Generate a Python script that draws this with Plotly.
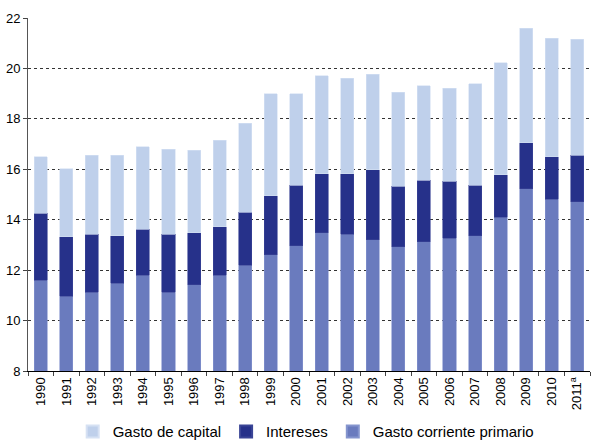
import plotly.graph_objects as go

years = ["1990", "1991", "1992", "1993", "1994", "1995", "1996", "1997", "1998", "1999",
         "2000", "2001", "2002", "2003", "2004", "2005", "2006", "2007", "2008", "2009",
         "2010", "2011<sup>a</sup>"]

gasto_corriente_primario = [11.59, 10.97, 11.13, 11.48, 11.79, 11.13, 11.43, 11.79, 12.20, 12.61,
                            12.96, 13.48, 13.43, 13.21, 12.92, 13.12, 13.27, 13.37, 14.09, 15.22,
                            14.82, 14.71]
intereses = [2.66, 2.35, 2.30, 1.89, 1.84, 2.30, 2.05, 1.93, 2.10, 2.35,
             2.41, 2.35, 2.40, 2.78, 2.40, 2.45, 2.25, 2.00, 1.69, 1.84,
             1.68, 1.85]
gasto_capital = [2.25, 2.71, 3.12, 3.18, 3.27, 3.37, 3.27, 3.44, 3.52, 4.04,
                 3.63, 3.88, 3.79, 3.77, 3.73, 3.74, 3.69, 4.03, 4.45, 4.54,
                 4.69, 4.59]

y_ticks = [8, 10, 12, 14, 16, 18, 20, 22]

fig = go.Figure()
fig.add_trace(go.Bar(x=years, y=gasto_corriente_primario, name="Gasto corriente primario",
                     marker=dict(color="#6A7BBE", line=dict(color="#8595CE", width=0.6)),
                     legendrank=3))
fig.add_trace(go.Bar(x=years, y=intereses, name="Intereses",
                     marker=dict(color="#26318A", line=dict(color="#3A4596", width=0.6)),
                     legendrank=2))
fig.add_trace(go.Bar(x=years, y=gasto_capital, name="Gasto de capital",
                     marker=dict(color="#BFD0EB", line=dict(color="#D6E1F3", width=0.6)),
                     legendrank=1))

fig.update_layout(
    barmode="stack",
    bargap=0.49,
    width=595, height=442,
    margin=dict(l=28, r=5, t=18, b=71, autoexpand=False),
    paper_bgcolor="white", plot_bgcolor="white",
    font=dict(family="Liberation Sans, Arial, sans-serif", size=13, color="#000000"),
    showlegend=True,
    legend=dict(orientation="h", x=0.495, xanchor="center", y=-0.172, yanchor="middle",
                font=dict(size=15), traceorder="normal", itemwidth=30,
                itemsizing="constant"),
)
fig.update_xaxes(
    type="category", tickangle=-90, tickson="boundaries", ticks="outside", ticklen=4,
    showline=True, linecolor="#000000", linewidth=1, showgrid=False, automargin=False,
    tickfont=dict(size=13), range=[-0.5, 21.5],
)
fig.update_yaxes(
    range=[8, 22], tickvals=y_ticks, ticks="outside", ticklen=4,
    showline=True, linecolor="#555555", linewidth=1, automargin=False,
    showgrid=True, gridcolor="#333333", griddash="3px,3px", gridwidth=1,
    zeroline=False, tickfont=dict(size=13),
)

fig.write_html("out.html", config={"displayModeBar": False},
               post_script="document.body.style.margin='0';document.body.style.overflow='hidden';")
